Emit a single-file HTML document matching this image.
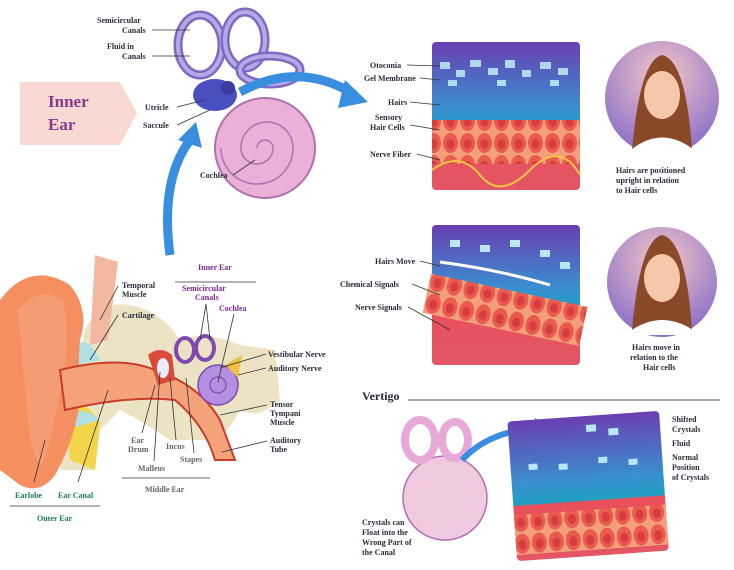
<!DOCTYPE html>
<html><head><meta charset="utf-8"><style>
body{margin:0;background:#fff;}
svg{display:block;font-family:"Liberation Serif",serif;font-weight:bold;}
.t{font-size:8px;fill:#2a2a3a;}
.g{font-size:8px;fill:#1d7a5a;}
.p{font-size:8px;fill:#7a2a8a;}
.m{font-size:8px;fill:#666;}
.ln{stroke:#333;stroke-width:0.8;fill:none;}
</style></head><body>
<svg width="734" height="570" viewBox="0 0 734 570" xmlns="http://www.w3.org/2000/svg">
<defs>
<linearGradient id="pg" x1="0" y1="0" x2="0" y2="1">
<stop offset="0" stop-color="#6a3fb0"/><stop offset="0.45" stop-color="#3a8fd0"/><stop offset="0.6" stop-color="#1f9fc0"/><stop offset="0.61" stop-color="#e8505a"/><stop offset="1" stop-color="#e45566"/></linearGradient>
<radialGradient id="wg" cx="0.5" cy="0.3" r="0.7"><stop offset="0" stop-color="#f6c7c7"/><stop offset="1" stop-color="#8a6fc8"/></radialGradient>
<pattern id="cells" width="17" height="22" patternUnits="userSpaceOnUse"><rect width="17" height="22" fill="#f3a07a"/><ellipse cx="8.5" cy="11" rx="7.5" ry="10" fill="#ea5a4f"/><ellipse cx="8.5" cy="12" rx="4" ry="5" fill="#d63d40"/></pattern>
</defs>

<!-- Inner Ear label -->
<path d="M20 82 H120 L137 113 L120 145 H20 Z" fill="#f9d9d3"/>
<text x="48" y="107" style="font-size:17px;fill:#8a3a8a">Inner</text>
<text x="48" y="130" style="font-size:17px;fill:#8a3a8a">Ear</text>

<!-- inner ear -->
<g fill="none" stroke-linecap="round">
<ellipse cx="200" cy="45" rx="22" ry="30" stroke="#7e6ac0" stroke-width="9"/>
<ellipse cx="200" cy="45" rx="22" ry="30" stroke="#b9a8e6" stroke-width="4"/>
<ellipse cx="245" cy="40" rx="20" ry="28" stroke="#7e6ac0" stroke-width="9"/>
<ellipse cx="245" cy="40" rx="20" ry="28" stroke="#b9a8e6" stroke-width="4"/>
<ellipse cx="270" cy="70" rx="30" ry="14" stroke="#7e6ac0" stroke-width="9"/>
<ellipse cx="270" cy="70" rx="30" ry="14" stroke="#b9a8e6" stroke-width="4"/>
</g>
<circle cx="265" cy="148" r="50" fill="#eab0d8" stroke="#b070b0" stroke-width="2"/>
<path d="M265 148 m-8 0 a8 8 0 1 1 16 0 a16 16 0 1 1 -32 0 a26 26 0 1 1 52 0 a36 36 0 1 1 -72 0" fill="none" stroke="#b070b0" stroke-width="1.5"/>
<ellipse cx="215" cy="95" rx="22" ry="16" fill="#4a4fc0"/>
<circle cx="228" cy="88" r="7" fill="#3a3aa0"/>
<path d="M240 92 Q300 60 355 95" fill="none" stroke="#3a8ee0" stroke-width="9"/>
<path d="M345 80 L368 102 L338 108 Z" fill="#3a8ee0"/>
<path d="M170 255 Q160 180 190 140" fill="none" stroke="#3a8ee0" stroke-width="9"/>
<path d="M178 140 L196 122 L202 148 Z" fill="#3a8ee0"/>

<text class="t" x="97" y="23">Semicircular</text><text class="t" x="122" y="33">Canals</text>
<line class="ln" x1="152" y1="30" x2="190" y2="30"/>
<text class="t" x="107" y="49">Fluid in</text><text class="t" x="122" y="59">Canals</text>
<line class="ln" x1="152" y1="56" x2="190" y2="56"/>
<text class="t" x="145" y="110">Utricle</text><line class="ln" x1="177" y1="107" x2="205" y2="100"/>
<text class="t" x="143" y="128">Saccule</text><line class="ln" x1="177" y1="125" x2="210" y2="110"/>
<text class="t" x="200" y="178">Cochlea</text><line class="ln" x1="233" y1="175" x2="255" y2="160"/>

<!-- panel 1 -->
<rect x="432" y="42" width="148" height="148" rx="4" fill="url(#pg)"/>
<rect x="432" y="120" width="148" height="44" fill="url(#cells)"/>
<path d="M432 170 Q460 150 480 175 T530 170 T580 175" fill="none" stroke="#f5c542" stroke-width="2"/>
<g fill="#b8e6f4" opacity="0.9">
<rect x="440" y="62" width="10" height="7"/><rect x="456" y="70" width="9" height="7"/><rect x="470" y="60" width="11" height="7"/><rect x="488" y="68" width="10" height="7"/><rect x="505" y="60" width="10" height="8"/><rect x="522" y="70" width="9" height="7"/><rect x="540" y="62" width="11" height="7"/><rect x="558" y="68" width="10" height="7"/><rect x="448" y="80" width="9" height="6"/><rect x="497" y="80" width="9" height="6"/><rect x="550" y="80" width="9" height="6"/></g>
<text class="t" x="370" y="68">Otoconia</text><line class="ln" x1="407" y1="65" x2="440" y2="66"/>
<text class="t" x="364" y="81">Gel Membrane</text><line class="ln" x1="420" y1="78" x2="440" y2="80"/>
<text class="t" x="388" y="105">Hairs</text><line class="ln" x1="410" y1="102" x2="440" y2="105"/>
<text class="t" x="375" y="120">Sensory</text><text class="t" x="370" y="130">Hair Cells</text><line class="ln" x1="410" y1="125" x2="440" y2="130"/>
<text class="t" x="370" y="157">Nerve Fiber</text><line class="ln" x1="417" y1="154" x2="440" y2="160"/>

<circle cx="662" cy="98" r="57" fill="url(#wg)"/>
<path d="M632 150 Q640 60 662 55 Q686 60 692 150 Z" fill="#8a4a2a"/>
<ellipse cx="662" cy="95" rx="18" ry="24" fill="#f4c8a8"/>
<path d="M625 155 Q662 120 700 155 Z" fill="#fff"/>
<text class="t" x="616" y="173">Hairs are positioned</text>
<text class="t" x="616" y="183">upright in relation</text>
<text class="t" x="616" y="193">to Hair cells</text>

<!-- panel 2 -->
<rect x="432" y="225" width="148" height="140" rx="4" fill="url(#pg)"/>
<g transform="rotate(12 506 310)"><rect x="425" y="290" width="160" height="40" fill="url(#cells)"/></g>
<path d="M440 262 Q500 270 550 285" fill="none" stroke="#fff" stroke-width="3"/>
<g fill="#b8e6f4"><rect x="450" y="240" width="10" height="7"/><rect x="480" y="245" width="10" height="7"/><rect x="510" y="240" width="10" height="7"/><rect x="540" y="250" width="10" height="7"/><rect x="560" y="262" width="10" height="7"/></g>
<text class="t" x="375" y="264">Hairs Move</text><line class="ln" x1="420" y1="261" x2="440" y2="266"/>
<text class="t" x="340" y="287">Chemical Signals</text><line class="ln" x1="412" y1="284" x2="440" y2="295"/>
<text class="t" x="355" y="310">Nerve Signals</text><line class="ln" x1="408" y1="307" x2="450" y2="330"/>

<circle cx="662" cy="282" r="55" fill="url(#wg)"/>
<path d="M632 330 Q640 240 662 235 Q686 240 692 330 Z" fill="#8a4a2a"/>
<ellipse cx="662" cy="278" rx="18" ry="24" fill="#f4c8a8"/>
<path d="M625 335 Q662 305 700 335 Z" fill="#fff"/>
<text class="t" x="632" y="350">Hairs move in</text>
<text class="t" x="630" y="360">relation to the</text>
<text class="t" x="643" y="370">Hair cells</text>

<!-- Vertigo -->
<text x="362" y="400" style="font-size:12px;fill:#2a2a3a">Vertigo</text>
<line x1="408" y1="400" x2="720" y2="400" stroke="#555" stroke-width="1"/>
<circle cx="445" cy="498" r="42" fill="#f0c8e0" stroke="#b070b0" stroke-width="1.5"/>
<ellipse cx="420" cy="440" rx="15" ry="20" fill="none" stroke="#e8a8d8" stroke-width="8"/>
<ellipse cx="455" cy="440" rx="13" ry="18" fill="none" stroke="#e8a8d8" stroke-width="8"/>
<path d="M462 460 Q490 430 540 428" fill="none" stroke="#3a8ee0" stroke-width="6"/>
<path d="M535 418 L552 428 L535 438 Z" fill="#3a8ee0"/>
<g transform="rotate(-4 588 485)">
<rect x="512" y="416" width="152" height="140" rx="4" fill="url(#pg)"/>
<rect x="512" y="510" width="152" height="40" fill="url(#cells)"/>
<g fill="#b8e6f4"><rect x="590" y="425" width="10" height="7"/><rect x="612" y="430" width="10" height="7"/><rect x="530" y="460" width="9" height="6"/><rect x="560" y="462" width="9" height="6"/><rect x="600" y="458" width="9" height="6"/><rect x="630" y="462" width="9" height="6"/></g>
</g>
<text class="t" x="672" y="422">Shifted</text><text class="t" x="672" y="432">Crystals</text>
<text class="t" x="672" y="446">Fluid</text>
<text class="t" x="672" y="460">Normal</text><text class="t" x="672" y="470">Position</text><text class="t" x="672" y="480">of Crystals</text>
<text class="t" x="362" y="525">Crystals can</text><text class="t" x="362" y="535">Float into the</text><text class="t" x="362" y="545">Wrong Part of</text><text class="t" x="362" y="555">the Canal</text>

<!-- outer ear section -->
<path d="M85 330 Q100 300 130 305 Q160 310 180 340 Q205 330 240 345 L275 350 L280 400 Q260 420 240 410 Q230 430 215 440 L170 440 Q140 420 120 410 L100 430 L95 470 L60 470 Z" fill="#ece3c4"/>
<path d="M60 370 L70 460 L95 470 L100 420 L80 400 Z" fill="#f3d54a"/>
<path d="M95 255 L118 262 L108 340 L90 345 Z" fill="#f2b8a0"/>
<path d="M72 345 Q90 335 100 360 L75 365 Z" fill="#aee0e6"/>
<path d="M60 415 Q85 405 100 420 L65 430 Z" fill="#aee0e6"/>
<path d="M0 300 Q30 260 70 285 Q90 310 80 340 Q78 360 80 400 Q75 440 55 475 Q40 495 20 485 L0 470 Z" fill="#f58f60"/>
<path d="M18 310 Q40 285 62 300 Q72 330 62 380 Q55 430 42 465 Q30 455 28 420 Z" fill="#f49d74"/>
<path d="M60 370 Q120 355 155 370 Q200 385 220 420 L235 460 L215 460 Q205 425 175 400 Q130 395 65 410 Z" fill="#f4a27a" stroke="#c83c2a" stroke-width="2"/>
<path d="M148 355 Q160 345 172 355 L175 380 L158 385 Z" fill="#d94a3a"/>
<ellipse cx="163" cy="368" rx="6" ry="10" fill="#e8eef8"/>
<g fill="none" stroke="#7e4ab0" stroke-width="4"><ellipse cx="185" cy="350" rx="9" ry="12"/><ellipse cx="205" cy="348" rx="9" ry="12"/></g>
<circle cx="218" cy="385" r="20" fill="#b48ee0" stroke="#7e4ab0" stroke-width="1.5"/>
<circle cx="218" cy="385" r="8" fill="none" stroke="#7e4ab0" stroke-width="1.2"/>
<path d="M225 365 L242 355 L238 378 Z" fill="#f0c040"/>
<text class="t" x="122" y="288">Temporal</text><text class="t" x="122" y="297">Muscle</text>
<line class="ln" x1="118" y1="286" x2="100" y2="320"/>
<text class="t" x="122" y="318">Cartilage</text>
<line class="ln" x1="118" y1="315" x2="90" y2="360"/>
<text class="p" x="198" y="270">Inner Ear</text>
<line class="ln" x1="175" y1="282" x2="256" y2="282"/>
<text class="p" x="182" y="291">Semicircular</text><text class="p" x="195" y="300">Canals</text>
<line class="ln" x1="206" y1="304" x2="200" y2="340"/><line class="ln" x1="206" y1="304" x2="210" y2="340"/>
<text class="p" x="219" y="311">Cochlea</text>
<line class="ln" x1="234" y1="314" x2="218" y2="382"/>
<text class="t" x="268" y="357">Vestibular Nerve</text><line class="ln" x1="266" y1="354" x2="220" y2="368"/>
<text class="t" x="268" y="371">Auditory Nerve</text><line class="ln" x1="266" y1="368" x2="238" y2="375"/>
<text class="t" x="270" y="407">Tensor</text><text class="t" x="270" y="416">Tympani</text><text class="t" x="270" y="425">Muscle</text>
<line class="ln" x1="267" y1="405" x2="220" y2="415"/>
<text class="t" x="270" y="443">Auditory</text><text class="t" x="270" y="452">Tube</text>
<line class="ln" x1="267" y1="441" x2="222" y2="452"/>
<text class="m" x="131" y="443">Ear</text><text class="m" x="128" y="452">Drum</text>
<line class="ln" x1="142" y1="433" x2="155" y2="385"/>
<text class="m" x="166" y="449">Incus</text><line class="ln" x1="176" y1="440" x2="170" y2="378"/>
<text class="m" x="180" y="462">Stapes</text><line class="ln" x1="194" y1="453" x2="186" y2="378"/>
<text class="m" x="138" y="471">Malleus</text><line class="ln" x1="154" y1="461" x2="160" y2="372"/>
<line class="ln" x1="122" y1="478" x2="210" y2="478"/>
<text class="m" x="145" y="492">Middle Ear</text>
<line class="ln" x1="34" y1="482" x2="45" y2="440"/><line class="ln" x1="78" y1="482" x2="108" y2="390"/>
<text class="g" x="15" y="498">Earlobe</text>
<text class="g" x="58" y="498">Ear Canal</text>
<line class="ln" x1="10" y1="506" x2="100" y2="506"/>
<text class="g" x="37" y="521">Outer Ear</text>
</svg>
</body></html>
